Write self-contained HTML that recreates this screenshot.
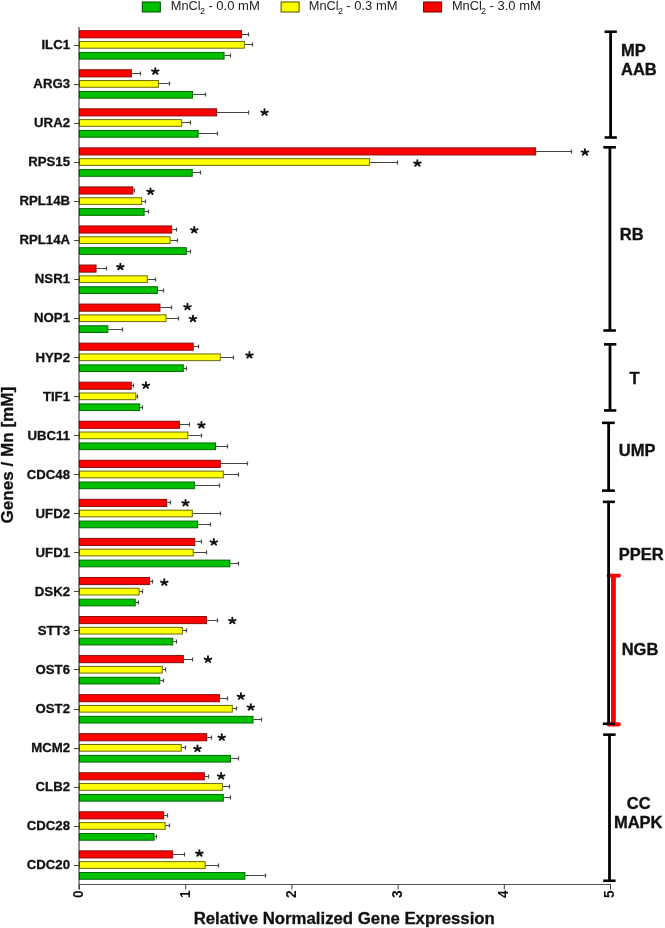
<!DOCTYPE html>
<html><head><meta charset="utf-8"><style>
html,body{margin:0;padding:0;background:#fff;}
body{width:665px;height:928px;overflow:hidden;}
svg{display:block;will-change:transform;}
text{font-family:"Liberation Sans",sans-serif;}
.gl{font-size:13.2px;font-weight:bold;fill:#111;stroke:#111;stroke-width:0.3px;}
.tk{font-size:13.8px;font-weight:bold;fill:#111;}
.grp{font-size:16.5px;font-weight:bold;fill:#111;stroke:#111;stroke-width:0.35px;}
.xt{font-size:16px;font-weight:bold;fill:#111;stroke:#111;stroke-width:0.3px;}
.lg{font-size:12.8px;fill:#222;}
.as{stroke:#111;stroke-width:1.9px;stroke-linecap:round;fill:none;}
</style></head><body>
<svg width="665" height="928" viewBox="0 0 665 928">
<rect width="665" height="928" fill="#fff"/>
<rect x="142.3" y="2" width="18" height="10" fill="#00c000" stroke="#004a00" stroke-width="1"/><text x="170.85" y="10.3" class="lg">MnCl</text><text x="200.00" y="13.5" class="lg" style="font-size:9px">2</text><text x="208.40" y="10.3" class="lg" textLength="51.4" lengthAdjust="spacingAndGlyphs">- 0.0 mM</text><rect x="281.1" y="2" width="18" height="10" fill="#ffff00" stroke="#4a4a00" stroke-width="1"/><text x="308.75" y="10.3" class="lg">MnCl</text><text x="337.90" y="13.5" class="lg" style="font-size:9px">2</text><text x="346.30" y="10.3" class="lg" textLength="51.4" lengthAdjust="spacingAndGlyphs">- 0.3 mM</text><rect x="423.6" y="2" width="18" height="10" fill="#ff0000" stroke="#600000" stroke-width="1"/><text x="451.95" y="10.3" class="lg">MnCl</text><text x="481.10" y="13.5" class="lg" style="font-size:9px">2</text><text x="489.50" y="10.3" class="lg" textLength="51.4" lengthAdjust="spacingAndGlyphs">- 3.0 mM</text>
<rect x="79.5" y="30.70" width="161.95" height="7.10" fill="#ff0000" stroke="#8a0a0a" stroke-width="1"/><line x1="241.95" y1="34.5" x2="249.00" y2="34.5" stroke="#444" stroke-width="1"/><line x1="248.5" y1="32.5" x2="248.5" y2="36.5" stroke="#444" stroke-width="1.2"/><rect x="79.5" y="41.50" width="164.85" height="6.70" fill="#ffff00" stroke="#6a6a10" stroke-width="1"/><line x1="244.85" y1="44.5" x2="253.00" y2="44.5" stroke="#444" stroke-width="1"/><line x1="252.5" y1="42.5" x2="252.5" y2="46.5" stroke="#444" stroke-width="1.2"/><rect x="79.5" y="52.40" width="144.55" height="6.70" fill="#00c000" stroke="#006a00" stroke-width="1"/><line x1="224.55" y1="55.5" x2="231.00" y2="55.5" stroke="#444" stroke-width="1"/><line x1="230.5" y1="53.5" x2="230.5" y2="57.5" stroke="#444" stroke-width="1.2"/><line x1="74" y1="45.5" x2="79" y2="45.5" stroke="#444" stroke-width="1"/><rect x="79.5" y="69.76" width="51.85" height="7.10" fill="#ff0000" stroke="#8a0a0a" stroke-width="1"/><line x1="131.85" y1="73.5" x2="141.00" y2="73.5" stroke="#444" stroke-width="1"/><line x1="140.5" y1="71.5" x2="140.5" y2="75.5" stroke="#444" stroke-width="1.2"/><rect x="79.5" y="80.56" width="78.95" height="6.70" fill="#ffff00" stroke="#6a6a10" stroke-width="1"/><line x1="158.95" y1="83.5" x2="170.00" y2="83.5" stroke="#444" stroke-width="1"/><line x1="169.5" y1="81.5" x2="169.5" y2="85.5" stroke="#444" stroke-width="1.2"/><rect x="79.5" y="91.46" width="113.05" height="6.70" fill="#00c000" stroke="#006a00" stroke-width="1"/><line x1="193.05" y1="94.5" x2="206.00" y2="94.5" stroke="#444" stroke-width="1"/><line x1="205.5" y1="92.5" x2="205.5" y2="96.5" stroke="#444" stroke-width="1.2"/><line x1="74" y1="84.5" x2="79" y2="84.5" stroke="#444" stroke-width="1"/><rect x="79.5" y="108.81" width="137.15" height="7.10" fill="#ff0000" stroke="#8a0a0a" stroke-width="1"/><line x1="217.15" y1="112.5" x2="249.00" y2="112.5" stroke="#444" stroke-width="1"/><line x1="248.5" y1="110.5" x2="248.5" y2="114.5" stroke="#444" stroke-width="1.2"/><rect x="79.5" y="119.61" width="102.15" height="6.70" fill="#ffff00" stroke="#6a6a10" stroke-width="1"/><line x1="182.15" y1="122.5" x2="191.00" y2="122.5" stroke="#444" stroke-width="1"/><line x1="190.5" y1="120.5" x2="190.5" y2="124.5" stroke="#444" stroke-width="1.2"/><rect x="79.5" y="130.51" width="118.65" height="6.70" fill="#00c000" stroke="#006a00" stroke-width="1"/><line x1="198.65" y1="133.5" x2="218.00" y2="133.5" stroke="#444" stroke-width="1"/><line x1="217.5" y1="131.5" x2="217.5" y2="135.5" stroke="#444" stroke-width="1.2"/><line x1="74" y1="123.5" x2="79" y2="123.5" stroke="#444" stroke-width="1"/><rect x="79.5" y="147.86" width="456.15" height="7.10" fill="#ff0000" stroke="#8a0a0a" stroke-width="1"/><line x1="536.15" y1="151.5" x2="572.00" y2="151.5" stroke="#444" stroke-width="1"/><line x1="571.5" y1="149.5" x2="571.5" y2="153.5" stroke="#444" stroke-width="1.2"/><rect x="79.5" y="158.66" width="290.15" height="6.70" fill="#ffff00" stroke="#6a6a10" stroke-width="1"/><line x1="370.15" y1="162.5" x2="398.00" y2="162.5" stroke="#444" stroke-width="1"/><line x1="397.5" y1="160.5" x2="397.5" y2="164.5" stroke="#444" stroke-width="1.2"/><rect x="79.5" y="169.56" width="112.75" height="6.70" fill="#00c000" stroke="#006a00" stroke-width="1"/><line x1="192.75" y1="172.5" x2="201.00" y2="172.5" stroke="#444" stroke-width="1"/><line x1="200.5" y1="170.5" x2="200.5" y2="174.5" stroke="#444" stroke-width="1.2"/><line x1="74" y1="162.5" x2="79" y2="162.5" stroke="#444" stroke-width="1"/><rect x="79.5" y="186.92" width="53.35" height="7.10" fill="#ff0000" stroke="#8a0a0a" stroke-width="1"/><line x1="133.35" y1="190.5" x2="135.00" y2="190.5" stroke="#444" stroke-width="1"/><line x1="134.5" y1="188.5" x2="134.5" y2="192.5" stroke="#444" stroke-width="1.2"/><rect x="79.5" y="197.72" width="62.15" height="6.70" fill="#ffff00" stroke="#6a6a10" stroke-width="1"/><line x1="142.15" y1="201.5" x2="146.00" y2="201.5" stroke="#444" stroke-width="1"/><line x1="145.5" y1="199.5" x2="145.5" y2="203.5" stroke="#444" stroke-width="1.2"/><rect x="79.5" y="208.62" width="64.65" height="6.70" fill="#00c000" stroke="#006a00" stroke-width="1"/><line x1="144.65" y1="211.5" x2="149.00" y2="211.5" stroke="#444" stroke-width="1"/><line x1="148.5" y1="209.5" x2="148.5" y2="213.5" stroke="#444" stroke-width="1.2"/><line x1="74" y1="201.5" x2="79" y2="201.5" stroke="#444" stroke-width="1"/><rect x="79.5" y="225.97" width="92.15" height="7.10" fill="#ff0000" stroke="#8a0a0a" stroke-width="1"/><line x1="172.15" y1="229.5" x2="177.00" y2="229.5" stroke="#444" stroke-width="1"/><line x1="176.5" y1="227.5" x2="176.5" y2="231.5" stroke="#444" stroke-width="1.2"/><rect x="79.5" y="236.78" width="90.55" height="6.70" fill="#ffff00" stroke="#6a6a10" stroke-width="1"/><line x1="170.55" y1="240.5" x2="178.00" y2="240.5" stroke="#444" stroke-width="1"/><line x1="177.5" y1="238.5" x2="177.5" y2="242.5" stroke="#444" stroke-width="1.2"/><rect x="79.5" y="247.68" width="106.85" height="6.70" fill="#00c000" stroke="#006a00" stroke-width="1"/><line x1="186.85" y1="251.5" x2="191.00" y2="251.5" stroke="#444" stroke-width="1"/><line x1="190.5" y1="249.5" x2="190.5" y2="253.5" stroke="#444" stroke-width="1.2"/><line x1="74" y1="240.5" x2="79" y2="240.5" stroke="#444" stroke-width="1"/><rect x="79.5" y="265.03" width="16.55" height="7.10" fill="#ff0000" stroke="#8a0a0a" stroke-width="1"/><line x1="96.55" y1="268.5" x2="107.00" y2="268.5" stroke="#444" stroke-width="1"/><line x1="106.5" y1="266.5" x2="106.5" y2="270.5" stroke="#444" stroke-width="1.2"/><rect x="79.5" y="275.83" width="67.75" height="6.70" fill="#ffff00" stroke="#6a6a10" stroke-width="1"/><line x1="147.75" y1="279.5" x2="156.00" y2="279.5" stroke="#444" stroke-width="1"/><line x1="155.5" y1="277.5" x2="155.5" y2="281.5" stroke="#444" stroke-width="1.2"/><rect x="79.5" y="286.73" width="77.95" height="6.70" fill="#00c000" stroke="#006a00" stroke-width="1"/><line x1="157.95" y1="290.5" x2="164.00" y2="290.5" stroke="#444" stroke-width="1"/><line x1="163.5" y1="288.5" x2="163.5" y2="292.5" stroke="#444" stroke-width="1.2"/><line x1="74" y1="279.5" x2="79" y2="279.5" stroke="#444" stroke-width="1"/><rect x="79.5" y="304.08" width="80.45" height="7.10" fill="#ff0000" stroke="#8a0a0a" stroke-width="1"/><line x1="160.45" y1="307.5" x2="172.00" y2="307.5" stroke="#444" stroke-width="1"/><line x1="171.5" y1="305.5" x2="171.5" y2="309.5" stroke="#444" stroke-width="1.2"/><rect x="79.5" y="314.88" width="86.55" height="6.70" fill="#ffff00" stroke="#6a6a10" stroke-width="1"/><line x1="166.55" y1="318.5" x2="179.00" y2="318.5" stroke="#444" stroke-width="1"/><line x1="178.5" y1="316.5" x2="178.5" y2="320.5" stroke="#444" stroke-width="1.2"/><rect x="79.5" y="325.78" width="28.35" height="6.70" fill="#00c000" stroke="#006a00" stroke-width="1"/><line x1="108.35" y1="329.5" x2="123.00" y2="329.5" stroke="#444" stroke-width="1"/><line x1="122.5" y1="327.5" x2="122.5" y2="331.5" stroke="#444" stroke-width="1.2"/><line x1="74" y1="318.5" x2="79" y2="318.5" stroke="#444" stroke-width="1"/><rect x="79.5" y="343.14" width="113.70" height="7.10" fill="#ff0000" stroke="#8a0a0a" stroke-width="1"/><line x1="193.70" y1="346.5" x2="199.00" y2="346.5" stroke="#444" stroke-width="1"/><line x1="198.5" y1="344.5" x2="198.5" y2="348.5" stroke="#444" stroke-width="1.2"/><rect x="79.5" y="353.94" width="140.80" height="6.70" fill="#ffff00" stroke="#6a6a10" stroke-width="1"/><line x1="220.80" y1="357.5" x2="234.00" y2="357.5" stroke="#444" stroke-width="1"/><line x1="233.5" y1="355.5" x2="233.5" y2="359.5" stroke="#444" stroke-width="1.2"/><rect x="79.5" y="364.84" width="103.80" height="6.70" fill="#00c000" stroke="#006a00" stroke-width="1"/><line x1="183.80" y1="368.5" x2="187.00" y2="368.5" stroke="#444" stroke-width="1"/><line x1="186.5" y1="366.5" x2="186.5" y2="370.5" stroke="#444" stroke-width="1.2"/><line x1="74" y1="357.5" x2="79" y2="357.5" stroke="#444" stroke-width="1"/><rect x="79.5" y="382.19" width="51.70" height="7.10" fill="#ff0000" stroke="#8a0a0a" stroke-width="1"/><line x1="131.70" y1="385.5" x2="134.00" y2="385.5" stroke="#444" stroke-width="1"/><line x1="133.5" y1="383.5" x2="133.5" y2="387.5" stroke="#444" stroke-width="1.2"/><rect x="79.5" y="393.00" width="56.30" height="6.70" fill="#ffff00" stroke="#6a6a10" stroke-width="1"/><line x1="136.30" y1="396.5" x2="138.00" y2="396.5" stroke="#444" stroke-width="1"/><line x1="137.5" y1="394.5" x2="137.5" y2="398.5" stroke="#444" stroke-width="1.2"/><rect x="79.5" y="403.89" width="60.20" height="6.70" fill="#00c000" stroke="#006a00" stroke-width="1"/><line x1="140.20" y1="407.5" x2="143.00" y2="407.5" stroke="#444" stroke-width="1"/><line x1="142.5" y1="405.5" x2="142.5" y2="409.5" stroke="#444" stroke-width="1.2"/><line x1="74" y1="396.5" x2="79" y2="396.5" stroke="#444" stroke-width="1"/><rect x="79.5" y="421.25" width="99.90" height="7.10" fill="#ff0000" stroke="#8a0a0a" stroke-width="1"/><line x1="179.90" y1="424.5" x2="190.00" y2="424.5" stroke="#444" stroke-width="1"/><line x1="189.5" y1="422.5" x2="189.5" y2="426.5" stroke="#444" stroke-width="1.2"/><rect x="79.5" y="432.05" width="108.30" height="6.70" fill="#ffff00" stroke="#6a6a10" stroke-width="1"/><line x1="188.30" y1="435.5" x2="202.00" y2="435.5" stroke="#444" stroke-width="1"/><line x1="201.5" y1="433.5" x2="201.5" y2="437.5" stroke="#444" stroke-width="1.2"/><rect x="79.5" y="442.95" width="136.00" height="6.70" fill="#00c000" stroke="#006a00" stroke-width="1"/><line x1="216.00" y1="446.5" x2="228.00" y2="446.5" stroke="#444" stroke-width="1"/><line x1="227.5" y1="444.5" x2="227.5" y2="448.5" stroke="#444" stroke-width="1.2"/><line x1="74" y1="435.5" x2="79" y2="435.5" stroke="#444" stroke-width="1"/><rect x="79.5" y="460.31" width="140.80" height="7.10" fill="#ff0000" stroke="#8a0a0a" stroke-width="1"/><line x1="220.80" y1="463.5" x2="248.00" y2="463.5" stroke="#444" stroke-width="1"/><line x1="247.5" y1="461.5" x2="247.5" y2="465.5" stroke="#444" stroke-width="1.2"/><rect x="79.5" y="471.11" width="143.80" height="6.70" fill="#ffff00" stroke="#6a6a10" stroke-width="1"/><line x1="223.80" y1="474.5" x2="239.00" y2="474.5" stroke="#444" stroke-width="1"/><line x1="238.5" y1="472.5" x2="238.5" y2="476.5" stroke="#444" stroke-width="1.2"/><rect x="79.5" y="482.00" width="114.90" height="6.70" fill="#00c000" stroke="#006a00" stroke-width="1"/><line x1="194.90" y1="485.5" x2="220.00" y2="485.5" stroke="#444" stroke-width="1"/><line x1="219.5" y1="483.5" x2="219.5" y2="487.5" stroke="#444" stroke-width="1.2"/><line x1="74" y1="474.5" x2="79" y2="474.5" stroke="#444" stroke-width="1"/><rect x="79.5" y="499.36" width="87.20" height="7.10" fill="#ff0000" stroke="#8a0a0a" stroke-width="1"/><line x1="167.20" y1="502.5" x2="171.00" y2="502.5" stroke="#444" stroke-width="1"/><line x1="170.5" y1="500.5" x2="170.5" y2="504.5" stroke="#444" stroke-width="1.2"/><rect x="79.5" y="510.16" width="112.80" height="6.70" fill="#ffff00" stroke="#6a6a10" stroke-width="1"/><line x1="192.80" y1="513.5" x2="221.00" y2="513.5" stroke="#444" stroke-width="1"/><line x1="220.5" y1="511.5" x2="220.5" y2="515.5" stroke="#444" stroke-width="1.2"/><rect x="79.5" y="521.06" width="118.20" height="6.70" fill="#00c000" stroke="#006a00" stroke-width="1"/><line x1="198.20" y1="524.5" x2="211.00" y2="524.5" stroke="#444" stroke-width="1"/><line x1="210.5" y1="522.5" x2="210.5" y2="526.5" stroke="#444" stroke-width="1.2"/><line x1="74" y1="513.5" x2="79" y2="513.5" stroke="#444" stroke-width="1"/><rect x="79.5" y="538.41" width="115.20" height="7.10" fill="#ff0000" stroke="#8a0a0a" stroke-width="1"/><line x1="195.20" y1="541.5" x2="202.00" y2="541.5" stroke="#444" stroke-width="1"/><line x1="201.5" y1="539.5" x2="201.5" y2="543.5" stroke="#444" stroke-width="1.2"/><rect x="79.5" y="549.21" width="113.70" height="6.70" fill="#ffff00" stroke="#6a6a10" stroke-width="1"/><line x1="193.70" y1="552.5" x2="207.00" y2="552.5" stroke="#444" stroke-width="1"/><line x1="206.5" y1="550.5" x2="206.5" y2="554.5" stroke="#444" stroke-width="1.2"/><rect x="79.5" y="560.11" width="150.40" height="6.70" fill="#00c000" stroke="#006a00" stroke-width="1"/><line x1="230.40" y1="563.5" x2="239.00" y2="563.5" stroke="#444" stroke-width="1"/><line x1="238.5" y1="561.5" x2="238.5" y2="565.5" stroke="#444" stroke-width="1.2"/><line x1="74" y1="552.5" x2="79" y2="552.5" stroke="#444" stroke-width="1"/><rect x="79.5" y="577.47" width="70.10" height="7.10" fill="#ff0000" stroke="#8a0a0a" stroke-width="1"/><line x1="150.10" y1="581.5" x2="153.00" y2="581.5" stroke="#444" stroke-width="1"/><line x1="152.5" y1="579.5" x2="152.5" y2="583.5" stroke="#444" stroke-width="1.2"/><rect x="79.5" y="588.27" width="59.60" height="6.70" fill="#ffff00" stroke="#6a6a10" stroke-width="1"/><line x1="139.60" y1="591.5" x2="143.00" y2="591.5" stroke="#444" stroke-width="1"/><line x1="142.5" y1="589.5" x2="142.5" y2="593.5" stroke="#444" stroke-width="1.2"/><rect x="79.5" y="599.17" width="55.70" height="6.70" fill="#00c000" stroke="#006a00" stroke-width="1"/><line x1="135.70" y1="602.5" x2="139.00" y2="602.5" stroke="#444" stroke-width="1"/><line x1="138.5" y1="600.5" x2="138.5" y2="604.5" stroke="#444" stroke-width="1.2"/><line x1="74" y1="591.5" x2="79" y2="591.5" stroke="#444" stroke-width="1"/><rect x="79.5" y="616.53" width="126.90" height="7.10" fill="#ff0000" stroke="#8a0a0a" stroke-width="1"/><line x1="206.90" y1="620.5" x2="218.00" y2="620.5" stroke="#444" stroke-width="1"/><line x1="217.5" y1="618.5" x2="217.5" y2="622.5" stroke="#444" stroke-width="1.2"/><rect x="79.5" y="627.33" width="102.90" height="6.70" fill="#ffff00" stroke="#6a6a10" stroke-width="1"/><line x1="182.90" y1="630.5" x2="187.00" y2="630.5" stroke="#444" stroke-width="1"/><line x1="186.5" y1="628.5" x2="186.5" y2="632.5" stroke="#444" stroke-width="1.2"/><rect x="79.5" y="638.23" width="93.20" height="6.70" fill="#00c000" stroke="#006a00" stroke-width="1"/><line x1="173.20" y1="641.5" x2="177.00" y2="641.5" stroke="#444" stroke-width="1"/><line x1="176.5" y1="639.5" x2="176.5" y2="643.5" stroke="#444" stroke-width="1.2"/><line x1="74" y1="630.5" x2="79" y2="630.5" stroke="#444" stroke-width="1"/><rect x="79.5" y="655.58" width="103.80" height="7.10" fill="#ff0000" stroke="#8a0a0a" stroke-width="1"/><line x1="183.80" y1="659.5" x2="193.00" y2="659.5" stroke="#444" stroke-width="1"/><line x1="192.5" y1="657.5" x2="192.5" y2="661.5" stroke="#444" stroke-width="1.2"/><rect x="79.5" y="666.38" width="82.70" height="6.70" fill="#ffff00" stroke="#6a6a10" stroke-width="1"/><line x1="162.70" y1="669.5" x2="166.00" y2="669.5" stroke="#444" stroke-width="1"/><line x1="165.5" y1="667.5" x2="165.5" y2="671.5" stroke="#444" stroke-width="1.2"/><rect x="79.5" y="677.28" width="80.30" height="6.70" fill="#00c000" stroke="#006a00" stroke-width="1"/><line x1="160.30" y1="680.5" x2="164.00" y2="680.5" stroke="#444" stroke-width="1"/><line x1="163.5" y1="678.5" x2="163.5" y2="682.5" stroke="#444" stroke-width="1.2"/><line x1="74" y1="669.5" x2="79" y2="669.5" stroke="#444" stroke-width="1"/><rect x="79.5" y="694.63" width="139.90" height="7.10" fill="#ff0000" stroke="#8a0a0a" stroke-width="1"/><line x1="219.90" y1="698.5" x2="228.00" y2="698.5" stroke="#444" stroke-width="1"/><line x1="227.5" y1="696.5" x2="227.5" y2="700.5" stroke="#444" stroke-width="1.2"/><rect x="79.5" y="705.43" width="152.80" height="6.70" fill="#ffff00" stroke="#6a6a10" stroke-width="1"/><line x1="232.80" y1="708.5" x2="237.00" y2="708.5" stroke="#444" stroke-width="1"/><line x1="236.5" y1="706.5" x2="236.5" y2="710.5" stroke="#444" stroke-width="1.2"/><rect x="79.5" y="716.33" width="173.50" height="6.70" fill="#00c000" stroke="#006a00" stroke-width="1"/><line x1="253.50" y1="719.5" x2="262.00" y2="719.5" stroke="#444" stroke-width="1"/><line x1="261.5" y1="717.5" x2="261.5" y2="721.5" stroke="#444" stroke-width="1.2"/><line x1="74" y1="709.5" x2="79" y2="709.5" stroke="#444" stroke-width="1"/><rect x="79.5" y="733.69" width="127.20" height="7.10" fill="#ff0000" stroke="#8a0a0a" stroke-width="1"/><line x1="207.20" y1="737.5" x2="212.00" y2="737.5" stroke="#444" stroke-width="1"/><line x1="211.5" y1="735.5" x2="211.5" y2="739.5" stroke="#444" stroke-width="1.2"/><rect x="79.5" y="744.49" width="101.70" height="6.70" fill="#ffff00" stroke="#6a6a10" stroke-width="1"/><line x1="181.70" y1="747.5" x2="186.00" y2="747.5" stroke="#444" stroke-width="1"/><line x1="185.5" y1="745.5" x2="185.5" y2="749.5" stroke="#444" stroke-width="1.2"/><rect x="79.5" y="755.39" width="151.00" height="6.70" fill="#00c000" stroke="#006a00" stroke-width="1"/><line x1="231.00" y1="758.5" x2="239.00" y2="758.5" stroke="#444" stroke-width="1"/><line x1="238.5" y1="756.5" x2="238.5" y2="760.5" stroke="#444" stroke-width="1.2"/><line x1="74" y1="748.5" x2="79" y2="748.5" stroke="#444" stroke-width="1"/><rect x="79.5" y="772.75" width="124.80" height="7.10" fill="#ff0000" stroke="#8a0a0a" stroke-width="1"/><line x1="204.80" y1="776.5" x2="209.00" y2="776.5" stroke="#444" stroke-width="1"/><line x1="208.5" y1="774.5" x2="208.5" y2="778.5" stroke="#444" stroke-width="1.2"/><rect x="79.5" y="783.54" width="142.90" height="6.70" fill="#ffff00" stroke="#6a6a10" stroke-width="1"/><line x1="222.90" y1="786.5" x2="230.00" y2="786.5" stroke="#444" stroke-width="1"/><line x1="229.5" y1="784.5" x2="229.5" y2="788.5" stroke="#444" stroke-width="1.2"/><rect x="79.5" y="794.44" width="143.80" height="6.70" fill="#00c000" stroke="#006a00" stroke-width="1"/><line x1="223.80" y1="797.5" x2="231.00" y2="797.5" stroke="#444" stroke-width="1"/><line x1="230.5" y1="795.5" x2="230.5" y2="799.5" stroke="#444" stroke-width="1.2"/><line x1="74" y1="787.5" x2="79" y2="787.5" stroke="#444" stroke-width="1"/><rect x="79.5" y="811.80" width="84.20" height="7.10" fill="#ff0000" stroke="#8a0a0a" stroke-width="1"/><line x1="164.20" y1="815.5" x2="168.00" y2="815.5" stroke="#444" stroke-width="1"/><line x1="167.5" y1="813.5" x2="167.5" y2="817.5" stroke="#444" stroke-width="1.2"/><rect x="79.5" y="822.60" width="85.70" height="6.70" fill="#ffff00" stroke="#6a6a10" stroke-width="1"/><line x1="165.70" y1="825.5" x2="170.00" y2="825.5" stroke="#444" stroke-width="1"/><line x1="169.5" y1="823.5" x2="169.5" y2="827.5" stroke="#444" stroke-width="1.2"/><rect x="79.5" y="833.50" width="74.60" height="6.70" fill="#00c000" stroke="#006a00" stroke-width="1"/><line x1="154.60" y1="836.5" x2="157.00" y2="836.5" stroke="#444" stroke-width="1"/><line x1="156.5" y1="834.5" x2="156.5" y2="838.5" stroke="#444" stroke-width="1.2"/><line x1="74" y1="826.5" x2="79" y2="826.5" stroke="#444" stroke-width="1"/><rect x="79.5" y="850.86" width="93.20" height="7.10" fill="#ff0000" stroke="#8a0a0a" stroke-width="1"/><line x1="173.20" y1="854.5" x2="185.00" y2="854.5" stroke="#444" stroke-width="1"/><line x1="184.5" y1="852.5" x2="184.5" y2="856.5" stroke="#444" stroke-width="1.2"/><rect x="79.5" y="861.65" width="125.70" height="6.70" fill="#ffff00" stroke="#6a6a10" stroke-width="1"/><line x1="205.70" y1="865.5" x2="219.00" y2="865.5" stroke="#444" stroke-width="1"/><line x1="218.5" y1="863.5" x2="218.5" y2="867.5" stroke="#444" stroke-width="1.2"/><rect x="79.5" y="872.55" width="165.40" height="6.70" fill="#00c000" stroke="#006a00" stroke-width="1"/><line x1="245.40" y1="875.5" x2="266.00" y2="875.5" stroke="#444" stroke-width="1"/><line x1="265.5" y1="873.5" x2="265.5" y2="877.5" stroke="#444" stroke-width="1.2"/><line x1="74" y1="865.5" x2="79" y2="865.5" stroke="#444" stroke-width="1"/>
<line x1="79" y1="27" x2="79" y2="889.5" stroke="#222" stroke-width="1"/><line x1="79" y1="884.5" x2="610.5" y2="884.5" stroke="#555" stroke-width="1"/><line x1="79.5" y1="884" x2="79.5" y2="889.5" stroke="#444" stroke-width="1"/><text transform="translate(83.3,894.1) rotate(-90)" text-anchor="middle" class="tk">0</text><line x1="185.7" y1="884" x2="185.7" y2="889.5" stroke="#444" stroke-width="1"/><text transform="translate(189.5,894.1) rotate(-90)" text-anchor="middle" class="tk">1</text><line x1="291.9" y1="884" x2="291.9" y2="889.5" stroke="#444" stroke-width="1"/><text transform="translate(295.7,894.1) rotate(-90)" text-anchor="middle" class="tk">2</text><line x1="398.1" y1="884" x2="398.1" y2="889.5" stroke="#444" stroke-width="1"/><text transform="translate(401.9,894.1) rotate(-90)" text-anchor="middle" class="tk">3</text><line x1="504.3" y1="884" x2="504.3" y2="889.5" stroke="#444" stroke-width="1"/><text transform="translate(508.1,894.1) rotate(-90)" text-anchor="middle" class="tk">4</text><line x1="610.5" y1="884" x2="610.5" y2="889.5" stroke="#444" stroke-width="1"/><text transform="translate(614.3,894.1) rotate(-90)" text-anchor="middle" class="tk">5</text>
<text x="70" y="49.10" text-anchor="end" class="gl">ILC1</text><text x="70" y="88.16" text-anchor="end" class="gl">ARG3</text><path transform="translate(155.30,71.65)" class="as" d="M0,0V-3.5M0,0L3.3,-1.2M0,0L-3.3,-1.2M0,0L2.2,2.1M0,0L-2.2,2.1"/><text x="70" y="127.21" text-anchor="end" class="gl">URA2</text><path transform="translate(264.50,112.80)" class="as" d="M0,0V-3.5M0,0L3.3,-1.2M0,0L-3.3,-1.2M0,0L2.2,2.1M0,0L-2.2,2.1"/><text x="70" y="166.26" text-anchor="end" class="gl">RPS15</text><path transform="translate(585.00,152.65)" class="as" d="M0,0V-3.5M0,0L3.3,-1.2M0,0L-3.3,-1.2M0,0L2.2,2.1M0,0L-2.2,2.1"/><path transform="translate(417.40,163.65)" class="as" d="M0,0V-3.5M0,0L3.3,-1.2M0,0L-3.3,-1.2M0,0L2.2,2.1M0,0L-2.2,2.1"/><text x="70" y="205.32" text-anchor="end" class="gl">RPL14B</text><path transform="translate(150.50,191.85)" class="as" d="M0,0V-3.5M0,0L3.3,-1.2M0,0L-3.3,-1.2M0,0L2.2,2.1M0,0L-2.2,2.1"/><text x="70" y="244.38" text-anchor="end" class="gl">RPL14A</text><path transform="translate(194.20,230.35)" class="as" d="M0,0V-3.5M0,0L3.3,-1.2M0,0L-3.3,-1.2M0,0L2.2,2.1M0,0L-2.2,2.1"/><text x="70" y="283.43" text-anchor="end" class="gl">NSR1</text><path transform="translate(120.35,267.20)" class="as" d="M0,0V-3.5M0,0L3.3,-1.2M0,0L-3.3,-1.2M0,0L2.2,2.1M0,0L-2.2,2.1"/><text x="70" y="322.49" text-anchor="end" class="gl">NOP1</text><path transform="translate(187.50,307.30)" class="as" d="M0,0V-3.5M0,0L3.3,-1.2M0,0L-3.3,-1.2M0,0L2.2,2.1M0,0L-2.2,2.1"/><path transform="translate(193.00,319.15)" class="as" d="M0,0V-3.5M0,0L3.3,-1.2M0,0L-3.3,-1.2M0,0L2.2,2.1M0,0L-2.2,2.1"/><text x="70" y="361.54" text-anchor="end" class="gl">HYP2</text><path transform="translate(249.45,355.50)" class="as" d="M0,0V-3.5M0,0L3.3,-1.2M0,0L-3.3,-1.2M0,0L2.2,2.1M0,0L-2.2,2.1"/><text x="70" y="400.60" text-anchor="end" class="gl">TIF1</text><path transform="translate(145.90,385.80)" class="as" d="M0,0V-3.5M0,0L3.3,-1.2M0,0L-3.3,-1.2M0,0L2.2,2.1M0,0L-2.2,2.1"/><text x="70" y="439.65" text-anchor="end" class="gl">UBC11</text><path transform="translate(201.45,425.45)" class="as" d="M0,0V-3.5M0,0L3.3,-1.2M0,0L-3.3,-1.2M0,0L2.2,2.1M0,0L-2.2,2.1"/><text x="70" y="478.71" text-anchor="end" class="gl">CDC48</text><text x="70" y="517.76" text-anchor="end" class="gl">UFD2</text><path transform="translate(185.50,503.35)" class="as" d="M0,0V-3.5M0,0L3.3,-1.2M0,0L-3.3,-1.2M0,0L2.2,2.1M0,0L-2.2,2.1"/><text x="70" y="556.81" text-anchor="end" class="gl">UFD1</text><path transform="translate(213.85,542.55)" class="as" d="M0,0V-3.5M0,0L3.3,-1.2M0,0L-3.3,-1.2M0,0L2.2,2.1M0,0L-2.2,2.1"/><text x="70" y="595.87" text-anchor="end" class="gl">DSK2</text><path transform="translate(164.30,582.80)" class="as" d="M0,0V-3.5M0,0L3.3,-1.2M0,0L-3.3,-1.2M0,0L2.2,2.1M0,0L-2.2,2.1"/><text x="70" y="634.93" text-anchor="end" class="gl">STT3</text><path transform="translate(232.30,621.10)" class="as" d="M0,0V-3.5M0,0L3.3,-1.2M0,0L-3.3,-1.2M0,0L2.2,2.1M0,0L-2.2,2.1"/><text x="70" y="673.98" text-anchor="end" class="gl">OST6</text><path transform="translate(208.00,659.80)" class="as" d="M0,0V-3.5M0,0L3.3,-1.2M0,0L-3.3,-1.2M0,0L2.2,2.1M0,0L-2.2,2.1"/><text x="70" y="713.03" text-anchor="end" class="gl">OST2</text><path transform="translate(240.90,696.75)" class="as" d="M0,0V-3.5M0,0L3.3,-1.2M0,0L-3.3,-1.2M0,0L2.2,2.1M0,0L-2.2,2.1"/><path transform="translate(250.80,707.60)" class="as" d="M0,0V-3.5M0,0L3.3,-1.2M0,0L-3.3,-1.2M0,0L2.2,2.1M0,0L-2.2,2.1"/><text x="70" y="752.09" text-anchor="end" class="gl">MCM2</text><path transform="translate(221.80,737.75)" class="as" d="M0,0V-3.5M0,0L3.3,-1.2M0,0L-3.3,-1.2M0,0L2.2,2.1M0,0L-2.2,2.1"/><path transform="translate(197.45,749.05)" class="as" d="M0,0V-3.5M0,0L3.3,-1.2M0,0L-3.3,-1.2M0,0L2.2,2.1M0,0L-2.2,2.1"/><text x="70" y="791.14" text-anchor="end" class="gl">CLB2</text><path transform="translate(221.15,776.55)" class="as" d="M0,0V-3.5M0,0L3.3,-1.2M0,0L-3.3,-1.2M0,0L2.2,2.1M0,0L-2.2,2.1"/><text x="70" y="830.20" text-anchor="end" class="gl">CDC28</text><text x="70" y="869.25" text-anchor="end" class="gl">CDC20</text><path transform="translate(199.40,853.70)" class="as" d="M0,0V-3.5M0,0L3.3,-1.2M0,0L-3.3,-1.2M0,0L2.2,2.1M0,0L-2.2,2.1"/>
<line x1="613.45" y1="575.65" x2="613.45" y2="724.3" stroke="#f00" stroke-width="4.8"/><line x1="608.6" y1="575.65" x2="619" y2="575.65" stroke="#f00" stroke-width="3.9" stroke-linecap="round"/><line x1="608.6" y1="724.3" x2="618.8" y2="724.3" stroke="#f00" stroke-width="4.2" stroke-linecap="round"/><line x1="610.6" y1="31.75" x2="610.6" y2="137.5" stroke="#000" stroke-width="2.8"/><line x1="604.6" y1="31.75" x2="616.8" y2="31.75" stroke="#000" stroke-width="2.6"/><line x1="604.6" y1="137.5" x2="616.8" y2="137.5" stroke="#000" stroke-width="2.6"/><line x1="609.9" y1="147.3" x2="609.9" y2="330.5" stroke="#000" stroke-width="2.8"/><line x1="603.3" y1="147.3" x2="615.9" y2="147.3" stroke="#000" stroke-width="2.6"/><line x1="603.3" y1="330.5" x2="615.9" y2="330.5" stroke="#000" stroke-width="2.6"/><line x1="610.0" y1="344.35" x2="610.0" y2="410.45" stroke="#000" stroke-width="2.8"/><line x1="604.0" y1="344.35" x2="616.3" y2="344.35" stroke="#000" stroke-width="2.6"/><line x1="604.0" y1="410.45" x2="616.3" y2="410.45" stroke="#000" stroke-width="2.6"/><line x1="608.65" y1="422.85" x2="608.65" y2="490.65" stroke="#000" stroke-width="2.8"/><line x1="602.0" y1="422.85" x2="614.8" y2="422.85" stroke="#000" stroke-width="2.6"/><line x1="602.0" y1="490.65" x2="614.8" y2="490.65" stroke="#000" stroke-width="2.6"/><line x1="608.6" y1="501.85" x2="608.6" y2="723.75" stroke="#000" stroke-width="2.8"/><line x1="602.8" y1="501.85" x2="614.95" y2="501.85" stroke="#000" stroke-width="2.6"/><line x1="602.8" y1="723.75" x2="614.95" y2="723.75" stroke="#000" stroke-width="2.6"/><line x1="609.5" y1="734.65" x2="609.5" y2="880.75" stroke="#000" stroke-width="2.8"/><line x1="603.2" y1="734.65" x2="615.6" y2="734.65" stroke="#000" stroke-width="2.6"/><line x1="603.2" y1="880.75" x2="615.6" y2="880.75" stroke="#000" stroke-width="2.6"/>
<text x="621" y="55.5" class="grp">MP</text><text x="621" y="75" class="grp">AAB</text><text x="619.8" y="239.5" class="grp">RB</text><text x="629.5" y="384.2" class="grp">T</text><text x="618.8" y="456.4" class="grp">UMP</text><text x="618.8" y="559.8" class="grp">PPER</text><text x="621.7" y="654.5" class="grp">NGB</text><text x="626.8" y="808.8" class="grp">CC</text><text x="613.9" y="827.9" class="grp">MAPK</text>
<text x="344.25" y="923.6" text-anchor="middle" class="xt" style="font-size:16.8px">Relative Normalized Gene Expression</text><text transform="translate(13.3,455.15) rotate(-90)" text-anchor="middle" class="xt" style="font-size:17.1px">Genes / Mn [mM]</text>
</svg>
</body></html>
